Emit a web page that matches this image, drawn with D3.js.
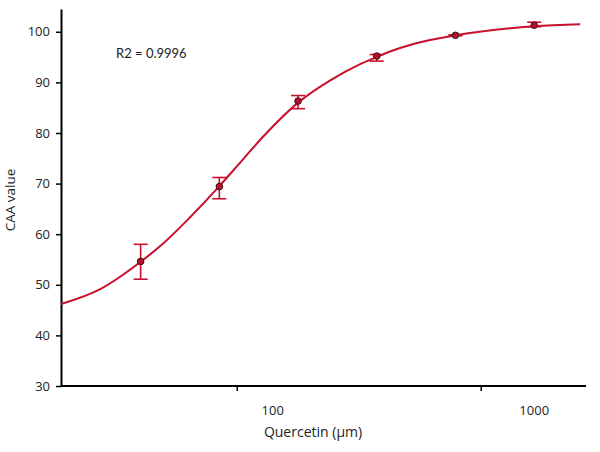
<!DOCTYPE html>
<html>
<head>
  <meta charset="utf-8">
  <title>CAA curve</title>
  <script src="https://cdnjs.cloudflare.com/ajax/libs/d3/7.8.5/d3.min.js"></script>
<style>
body { margin: 0; background: #fff; }
svg text { font-family: "Open Sans", sans-serif; fill: #222; }
.axis path, .axis line { stroke: #000; }
.tick text { font-size: 13px; }
.fit { fill: none; stroke: #c8102e; stroke-width: 2; }
.err { stroke: #c8102e; stroke-width: 1.6; }
.dot { fill: #b80f2c; stroke: #3a1010; stroke-width: 1; }
</style>
</head>
<body>
<svg width="600" height="452"></svg>
<script>
// measured points (concentration, CAA value, error bar top / bottom)
var conc = [31.25, 62.5, 125, 250, 500, 1000];
var caa = [54.6, 69.4, 86.3, 95.2, 99.3, 101.3];
var errHi = [58.0, 71.2, 87.4, 95.5, 99.4, 101.9];
var errLo = [51.1, 67.0, 84.8, 94.2, 99.2, 101.0];

// fitted curve
var fitX = [15.5, 22, 31, 38, 48, 62, 69, 77, 92, 125, 166, 216, 250, 281, 345, 500, 1000, 1500];
var fitY = [46.2, 49.2, 54.4, 58.1, 63.2, 69.3, 72.0, 74.8, 79.3, 86.0, 90.4, 93.6, 95.0, 96.1, 97.6, 99.3, 101.1, 101.5];

var xTicks = [100, 1000];
var yTicks = [30, 40, 50, 60, 70, 80, 90, 100];

var svg = d3.select("svg");

var x = d3.scaleLog()
  .domain([15.5, 1578])
  .range([61, 586]);
var y = d3.scaleLinear()
  .domain([30, 104.5])
  .range([386, 9]);

// y axis
var ya = svg.append("g")
  .attr("class", "axis")
  .attr("transform", "translate(61,0)")
  .call(d3.axisLeft(y).tickValues(yTicks).tickSize(5).tickSizeOuter(0).tickPadding(6));
ya.select(".domain").attr("stroke-width", 2);
ya.selectAll(".tick line").attr("stroke-width", 1.5);
ya.selectAll(".tick text").attr("fill", "#222");

// x axis line
svg.append("line")
  .attr("x1", 61).attr("x2", 586)
  .attr("y1", 386).attr("y2", 386)
  .attr("stroke", "#000").attr("stroke-width", 2);

// x tick marks sit left of their labels in the original
var markShift = [35.5, 53];
svg.selectAll(".xmark")
  .data(xTicks)
  .enter().append("line")
  .attr("class", "xmark")
  .attr("x1", function(d, i) { return x(d) - markShift[i]; })
  .attr("x2", function(d, i) { return x(d) - markShift[i]; })
  .attr("y1", 386).attr("y2", 391)
  .attr("stroke", "#000").attr("stroke-width", 1.5);
svg.selectAll(".xlab")
  .data(xTicks)
  .enter().append("text")
  .attr("class", "xlab")
  .attr("x", function(d) { return x(d); })
  .attr("y", 415)
  .attr("text-anchor", "middle")
  .style("font-size", "13px")
  .text(function(d) { return d; });

svg.append("text")
  .attr("x", 313).attr("y", 437)
  .attr("text-anchor", "middle")
  .style("font-size", "14px")
  .text("Quercetin (\u03bcm)");

svg.append("text")
  .attr("transform", "rotate(-90)")
  .attr("x", -200).attr("y", 15)
  .attr("text-anchor", "middle")
  .style("font-size", "13.5px")
  .text("CAA value");

svg.append("text")
  .attr("x", 116).attr("y", 58)
  .style("font-family", "Lato, sans-serif")
  .style("font-size", "13px")
  .text("R2 = 0.9996");

// fitted curve
var line = d3.line()
  .x(function(d) { return x(d[0]); })
  .y(function(d) { return y(d[1]); })
  .curve(d3.curveMonotoneX);
svg.append("path")
  .attr("class", "fit")
  .attr("d", line(d3.zip(fitX, fitY)));

// error bars
var pts = d3.range(conc.length);
var g = svg.append("g");
g.selectAll(".ev")
  .data(pts).enter().append("line")
  .attr("class", "err")
  .attr("x1", function(i) { return x(conc[i]); })
  .attr("x2", function(i) { return x(conc[i]); })
  .attr("y1", function(i) { return y(errHi[i]); })
  .attr("y2", function(i) { return y(errLo[i]); });
[errHi, errLo].forEach(function(arr) {
  g.selectAll(null)
    .data(pts).enter().append("line")
    .attr("class", "err")
    .attr("x1", function(i) { return x(conc[i]) - 7; })
    .attr("x2", function(i) { return x(conc[i]) + 7; })
    .attr("y1", function(i) { return y(arr[i]); })
    .attr("y2", function(i) { return y(arr[i]); });
});

g.selectAll(".dot")
  .data(pts).enter().append("circle")
  .attr("class", "dot")
  .attr("cx", function(i) { return x(conc[i]); })
  .attr("cy", function(i) { return y(caa[i]); })
  .attr("r", 3.3);
</script>
</body>
</html>
